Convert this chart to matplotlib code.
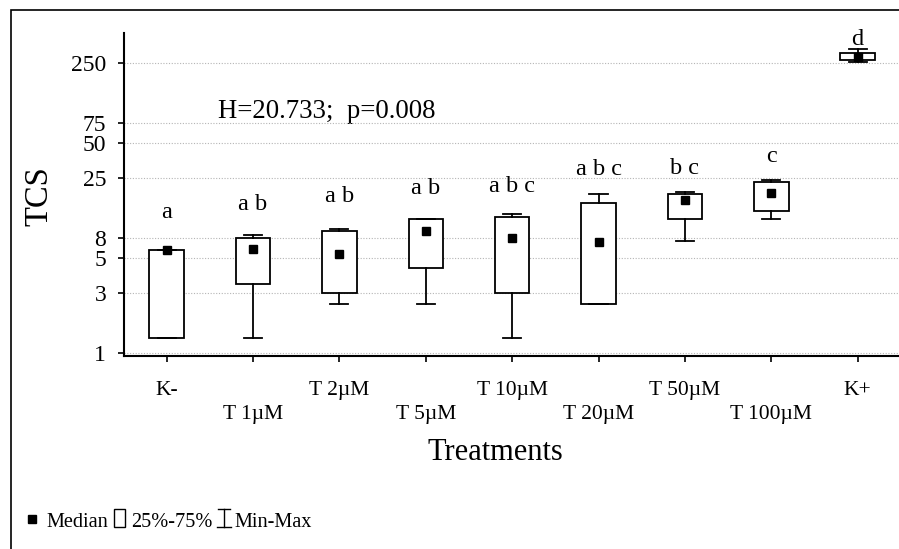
import numpy as np
import matplotlib
matplotlib.use('Agg')
import matplotlib.pyplot as plt
from matplotlib.patches import Rectangle
from matplotlib.ticker import NullLocator, FixedLocator, FixedFormatter
from matplotlib.transforms import blended_transform_factory

plt.rcParams['font.family'] = ['Liberation Serif', 'DejaVu Serif']

# ---------------- data ----------------
categories = ['K-', 'T 1µM', 'T 2µM', 'T 5µM', 'T 10µM', 'T 20µM', 'T 50µM', 'T 100µM', 'K+']
minimum = [1.3, 1.3, 2.45, 2.45, 1.3, 2.45, 7.4, 11.4, 256]
q1 = [1.3, 3.4, 3.0, 4.3, 3.0, 2.45, 11.4, 13.4, 267]
median = [6.1, 6.2, 5.5, 9.0, 8.0, 7.3, 16.3, 18.8, 282]
q3 = [6.1, 7.9, 9.0, 11.4, 11.9, 15.4, 18.3, 23.0, 309]
maximum = [6.1, 8.4, 9.4, 11.4, 12.6, 18.3, 19.1, 23.9, 333]
letters = ['a', 'a b', 'a b', 'a b', 'a b c', 'a b c', 'b c', 'c', 'd']
letter_y = [11.6, 13.5, 15.9, 18.3, 19.2, 26.4, 26.9, 34.5, 361]
ytick_values = [1, 3, 5, 8, 25, 50, 75, 250]
stat_text = 'H=20.733;  p=0.008'
legend_labels = ['Median', '25%-75%', 'Min-Max']

# ---------------- axis scale (tick spacing as drawn in the original) ----------------
tick_pos = [0, 60, 94.4, 115, 175, 209.4, 229.4, 289.4]
LOGS = np.concatenate([[-6.0], np.log10(ytick_values), [6.0]])
POS = np.concatenate([[-6.0 * 125.76], tick_pos,
                      [tick_pos[-1] + (6.0 - np.log10(250)) * 114.77]])


def fwd(v):
    v = np.asarray(v, dtype=float)
    lv = np.log10(np.clip(v, 1e-6, None))
    return np.interp(lv, LOGS, POS)


def inv(p):
    p = np.asarray(p, dtype=float)
    return 10 ** np.interp(p, POS, LOGS)


W, H = 899, 549
fig = plt.figure(figsize=(W / 100, H / 100), dpi=100)

# overlay in pixel coordinates
ov = fig.add_axes([0, 0, 1, 1], zorder=0)
ov.set_xlim(0, W)
ov.set_ylim(H, 0)
ov.axis('off')

ax_left, ax_right, ax_top, ax_bottom = 124, 899, 33, 356
ax = fig.add_axes([ax_left / W, 1 - ax_bottom / H, (ax_right - ax_left) / W, (ax_bottom - ax_top) / H],
                  zorder=1)
ax.patch.set_alpha(0)

ax.set_yscale('function', functions=(fwd, inv))
ax.set_ylim(0.941, 459)
ax.set_xlim(-0.494, 8.479)

stats = []
for i in range(len(categories)):
    stats.append(dict(med=median[i], q1=q1[i], q3=q3[i], whislo=minimum[i], whishi=maximum[i], fliers=[]))

lw = 1.3
ax.bxp(stats, positions=list(range(len(categories))), widths=0.4, capwidths=0.21,
       patch_artist=True, showfliers=False, manage_ticks=False,
       boxprops=dict(facecolor='white', edgecolor='black', linewidth=lw),
       whiskerprops=dict(color='black', linewidth=lw),
       capprops=dict(color='black', linewidth=lw),
       medianprops=dict(visible=False), zorder=3)
ax.plot(range(len(categories)), median, 's', color='black', ms=5.8, zorder=5)

for i, (lt, ly) in enumerate(zip(letters, letter_y)):
    ax.text(i, ly, lt, ha='center', va='baseline', fontsize=17.5, zorder=6)

# axes styling
for s in ['top', 'right']:
    ax.spines[s].set_visible(False)
for s in ['left', 'bottom']:
    ax.spines[s].set_linewidth(1.5)
ax.yaxis.set_major_locator(FixedLocator(ytick_values))
ax.yaxis.set_major_formatter(FixedFormatter([str(v) for v in ytick_values]))
ax.yaxis.set_minor_locator(NullLocator())
ax.set_xticks(range(len(categories)))
ax.set_xticklabels([''] * len(categories))
ax.tick_params(axis='y', direction='out', length=4.3, width=1.2, labelsize=17, pad=8.5)
ax.tick_params(axis='x', direction='out', length=4.5, width=1.2)
ax.yaxis.grid(True, linestyle=(0, (1, 1.5)), color='#b5b5b5', linewidth=0.8, zorder=0)
ax.set_axisbelow(True)

# category labels (staggered)
trans = blended_transform_factory(ax.transData, ov.transData)
for i, c in enumerate(categories):
    yb = 395 if i % 2 == 0 else 419
    ax.text(i, yb, c, transform=trans, ha='center', va='baseline', fontsize=15.5, clip_on=False)

# texts in pixel coordinates
ov.text(218.3, 117.7, stat_text, ha='left', va='baseline', fontsize=19.3)
ov.text(39, 196, 'TCS', rotation=90, ha='center', va='center', fontsize=23.5)
ov.text(495, 452, 'Treatments', ha='center', va='center', fontsize=22)

# frame
ov.plot([11, 11, W + 5], [H + 5, 10, 10], color='black', lw=1.2, solid_joinstyle='miter')

# legend laid out left to right
renderer = fig.canvas.get_renderer()


def text_width(t):
    bb = t.get_window_extent(renderer=renderer)
    return bb.width


ly_base = 526.7
ly_mid = 518.5
lfs = 14.6
x = 28.5
ov.plot([x + 3], [ly_mid], 's', color='black', ms=5.5)
x += 6 + 12
t = ov.text(x, ly_base, legend_labels[0], ha='left', va='baseline', fontsize=lfs)
x += text_width(t) + 6
ov.add_patch(Rectangle((x, 509), 11, 18, facecolor='white', edgecolor='black', lw=1.0))
x += 11 + 6
t = ov.text(x, ly_base, legend_labels[1], ha='left', va='baseline', fontsize=lfs)
x += text_width(t) + 5
ov.plot([x, x + 12], [509, 509], color='black', lw=1.0)
ov.plot([x + 6, x + 6], [509, 527], color='black', lw=1.0)
ov.plot([x - 1, x + 13], [527, 527], color='black', lw=1.0)
x += 12 + 5
ov.text(x, ly_base, legend_labels[2], ha='left', va='baseline', fontsize=lfs)

fig.savefig('out.png', dpi=100)
